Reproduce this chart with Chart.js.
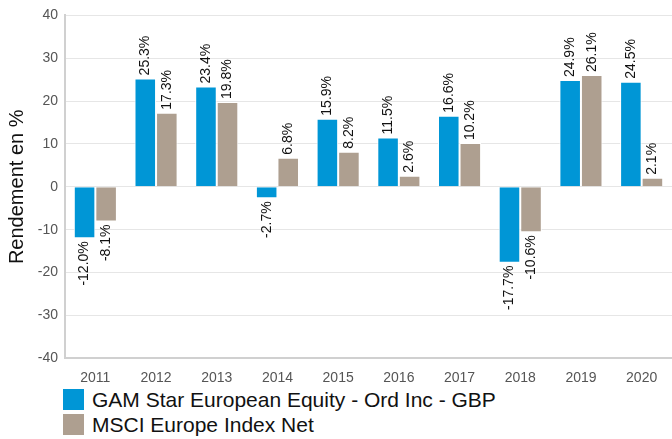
<!DOCTYPE html>
<html lang="fr">
<head>
    <meta charset="UTF-8">
    <title>Rendement annuel</title>
    <script src="https://cdn.jsdelivr.net/npm/chart.js"></script>
    <style>
        body {
            margin: 0;
            background: #fff;
            font-family: Arial, 'Liberation Sans', sans-serif;
        }

        #wrap {
            width: 672px;
            height: 391px;
            position: relative;
        }

        .legend {
            margin-left: 63px;
            margin-top: -4px;
        }

        .legend div {
            display: flex;
            align-items: center;
            height: 25px;
            font-size: 21px;
            color: #111;
        }

        .legend span {
            display: inline-block;
            width: 21px;
            height: 21px;
            margin-right: 8px;
        }
    </style>
</head>
<body>
    <div id="wrap"><canvas id="chart"></canvas></div>
    <div class="legend">
        <div><span style="background:#0096d6"></span>GAM Star European Equity - Ord Inc - GBP</div>
        <div><span style="background:#ae9f90"></span>MSCI Europe Index Net</div>
    </div>

    <script>
        const years = ['2011', '2012', '2013', '2014', '2015', '2016', '2017', '2018', '2019', '2020'];
        const gamValues = [-12.0, 25.3, 23.4, -2.7, 15.9, 11.5, 16.6, -17.7, 24.9, 24.5];
        const msciValues = [-8.1, 17.3, 19.8, 6.8, 8.2, 2.6, 10.2, -10.6, 26.1, 2.1];

        const fontFamily = 'Arial, "Liberation Sans", sans-serif';

        // rotated value labels above / below each bar
        const valueLabels = {
            id: 'valueLabels',
            afterDatasetsDraw(chart) {
                const ctx = chart.ctx;
                ctx.save();
                ctx.font = '14px ' + fontFamily;
                ctx.fillStyle = '#111';
                ctx.textBaseline = 'middle';
                chart.data.datasets.forEach((ds, i) => {
                    chart.getDatasetMeta(i).data.forEach((bar, j) => {
                        const v = ds.data[j];
                        ctx.save();
                        ctx.translate(bar.x, bar.y);
                        ctx.rotate(-Math.PI / 2);
                        if (v >= 0) {
                            ctx.textAlign = 'left';
                            ctx.fillText(v.toFixed(1) + '%', 3, 0);
                        } else {
                            ctx.textAlign = 'right';
                            ctx.fillText(v.toFixed(1) + '%', -3, 0);
                        }
                        ctx.restore();
                    });
                });
                ctx.restore();
            }
        };

        new Chart(document.getElementById('chart'), {
            type: 'bar',
            data: {
                labels: years,
                datasets: [{
                    label: 'GAM Star European Equity - Ord Inc - GBP',
                    data: gamValues,
                    backgroundColor: '#0096d6',
                    borderColor: '#ffffff',
                    borderWidth: 1,
                    barPercentage: 1,
                    categoryPercentage: 0.71
                }, {
                    label: 'MSCI Europe Index Net',
                    data: msciValues,
                    backgroundColor: '#ae9f90',
                    borderColor: '#ffffff',
                    borderWidth: 1,
                    barPercentage: 1,
                    categoryPercentage: 0.71
                }]
            },
            options: {
                responsive: true,
                maintainAspectRatio: false,
                animation: false,
                layout: { padding: { top: 13, right: 0, left: 0 } },
                plugins: {
                    legend: { display: false },
                    tooltip: { enabled: false }
                },
                scales: {
                    x: {
                        grid: { display: false },
                        border: { color: '#d0d0d0', width: 2 },
                        ticks: {
                            color: '#555',
                            font: { size: 14, family: fontFamily },
                            padding: 4
                        }
                    },
                    y: {
                        min: -40,
                        max: 40,
                        afterFit: s => { s.width = 65; },
                        ticks: {
                            stepSize: 10,
                            color: '#555',
                            padding: 7,
                            font: { size: 14, family: fontFamily }
                        },
                        grid: { color: '#e6e6e6', drawTicks: false },
                        border: { color: '#d0d0d0', width: 2 },
                        title: {
                            display: true,
                            text: 'Rendement en %',
                            color: '#111',
                            font: { size: 20, family: fontFamily },
                            padding: { top: 5, bottom: 4 }
                        }
                    }
                }
            },
            plugins: [valueLabels]
        });
    </script>
</body>
</html>
